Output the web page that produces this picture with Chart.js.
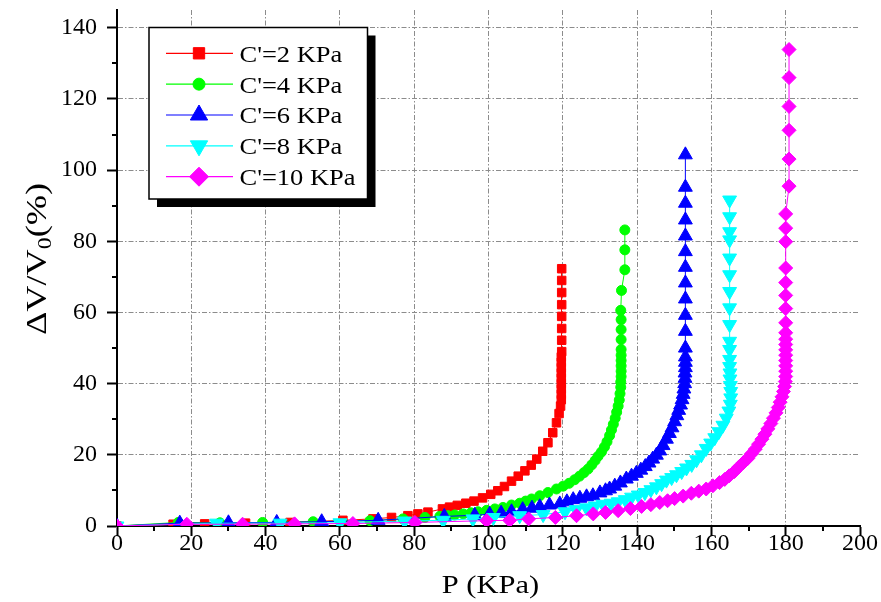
<!DOCTYPE html>
<html>
<head>
<meta charset="utf-8">
<script src="https://cdn.jsdelivr.net/npm/chart.js@4.4.0/dist/chart.umd.min.js"></script>
<style>
html,body{margin:0;padding:0;background:#fff;}
#wrap{width:881px;height:602px;position:relative;}
</style>
</head>
<body>
<div id="wrap"><canvas id="c" width="881" height="602"></canvas></div>
<script>
// ---------------- data ----------------
const seriesNames = ["C'=2 KPa", "C'=4 KPa", "C'=6 KPa", "C'=8 KPa", "C'=10 KPa"];

const pC2 = [0, 15.1, 23.6, 34.6, 46.6, 60.8, 68.9, 73.9, 78.3, 81.0, 83.7, 87.6, 89.5, 91.6, 93.9, 96.1, 98.4, 100.6, 102.5, 104.3, 106.2, 108.0, 109.8, 111.5, 113.0, 114.6, 116.0, 117.3, 118.3, 119.0, 119.4, 119.6, 119.6, 119.6, 119.6, 119.6, 119.6, 119.6, 119.6, 119.6, 119.7, 119.7, 119.7, 119.7, 119.7, 119.7, 119.7, 119.7];
const vC2 = [0, 0.5, 0.6, 0.8, 1.0, 1.6, 2.0, 2.4, 2.9, 3.4, 3.9, 4.8, 5.3, 5.8, 6.4, 7.0, 7.9, 8.9, 9.9, 11.1, 12.6, 14.0, 15.5, 17.1, 18.8, 21.0, 23.4, 26.2, 29.0, 31.6, 33.7, 35.5, 37.0, 38.5, 40.0, 41.5, 43.0, 44.5, 46.0, 47.5, 49.0, 52.2, 55.5, 58.9, 62.2, 65.6, 69.0, 72.3];

const pC4 = [0, 16.5, 27.7, 39.2, 52.8, 68.1, 77.0, 82.9, 86.9, 89.1, 90.9, 93.2, 95.3, 97.2, 99.5, 101.7, 103.9, 106.2, 108.4, 110.0, 111.6, 113.8, 116.0, 118.3, 120.1, 121.7, 123.2, 124.5, 125.7, 126.8, 127.8, 128.7, 129.5, 130.4, 131.2, 131.9, 132.6, 133.1, 133.6, 134.1, 134.5, 134.9, 135.2, 135.4, 135.6, 135.6, 135.7, 135.7, 135.7, 135.7, 135.7, 135.7, 135.7, 135.7, 135.7, 135.6, 135.8, 136.7, 136.7, 136.7];
const vC4 = [0, 1.0, 0.9, 1.0, 1.2, 1.5, 2.0, 2.4, 2.7, 2.9, 3.1, 3.4, 3.7, 4.0, 4.4, 4.8, 5.2, 5.9, 6.4, 7.0, 7.6, 8.5, 9.4, 10.4, 11.2, 12.0, 13.0, 14.0, 15.0, 16.0, 17.2, 18.4, 19.6, 20.8, 22.2, 23.7, 25.4, 27.0, 28.6, 30.3, 32.0, 33.7, 35.4, 37.2, 39.0, 40.5, 42.0, 43.5, 45.0, 46.5, 48.0, 49.6, 52.4, 55.2, 58.0, 60.6, 66.2, 72.0, 77.6, 83.2];

const pC6 = [0, 16.9, 30.0, 43.0, 55.1, 70.3, 88.1, 96.3, 100.3, 103.4, 106.2, 109.2, 111.7, 113.8, 116.4, 119.2, 121.1, 122.8, 124.6, 126.4, 128.1, 130.0, 131.5, 132.6, 134.0, 135.5, 137.1, 138.5, 139.8, 141.0, 142.2, 143.2, 144.2, 145.2, 146.1, 147.0, 147.9, 148.7, 149.4, 150.1, 150.7, 151.2, 151.7, 152.1, 152.4, 152.6, 152.8, 152.9, 152.9, 153.0, 153.0, 153.0, 153.0, 153.0, 153.0, 153.0, 153.0, 153.0, 153.0, 153.0, 153.0, 153.0, 153.0, 153.0];
const vC6 = [0, 0.8, 0.9, 1.0, 1.2, 1.6, 2.7, 3.0, 3.3, 3.6, 4.0, 4.6, 5.0, 5.4, 5.9, 6.2, 6.8, 7.4, 7.8, 8.2, 8.5, 9.3, 9.9, 10.4, 11.2, 12.1, 13.2, 14.0, 14.8, 15.7, 16.7, 17.7, 18.8, 19.9, 21.1, 22.6, 24.4, 26.0, 27.6, 29.3, 31.0, 32.5, 34.0, 35.5, 37.0, 38.5, 40.0, 41.5, 43.0, 44.5, 46.0, 47.5, 50.0, 54.7, 59.2, 63.8, 68.3, 72.7, 77.1, 81.5, 86.0, 90.7, 95.2, 104.3];

const pC8 = [0, 26.8, 43.9, 60.0, 77.4, 87.8, 95.8, 101.3, 108.4, 114.7, 120.6, 123.6, 126.4, 128.7, 130.8, 133.0, 134.9, 136.8, 138.5, 140.3, 142.1, 143.7, 145.2, 146.6, 147.9, 149.3, 150.6, 152.0, 153.3, 154.7, 156.0, 157.3, 158.6, 159.8, 160.9, 162.0, 163.1, 164.0, 164.7, 165.1, 165.2, 165.2, 165.1, 165.0, 165.0, 164.9, 164.9, 164.9, 164.9, 164.9, 164.9, 164.9, 164.9, 164.9, 164.9, 164.9, 164.9, 164.9];
const vC8 = [0, 0.8, 0.8, 0.9, 1.4, 1.6, 2.0, 2.4, 2.9, 3.2, 4.0, 4.6, 5.1, 5.6, 6.1, 6.4, 6.8, 7.4, 8.1, 8.7, 9.4, 10.2, 11.0, 11.9, 12.9, 13.6, 14.4, 15.3, 16.3, 17.3, 18.6, 20.0, 21.8, 23.3, 24.8, 26.5, 28.3, 30.3, 32.3, 34.2, 36.0, 37.8, 39.5, 41.3, 43.0, 44.8, 46.8, 49.6, 51.9, 56.6, 61.3, 65.9, 70.6, 75.3, 80.4, 82.7, 86.9, 91.6];

const pC10 = [0, 18.8, 33.8, 47.8, 63.5, 80.2, 99.5, 105.7, 110.8, 118.0, 123.7, 128.2, 131.5, 134.9, 138.2, 141.2, 143.7, 146.1, 148.2, 150.1, 152.4, 154.6, 156.6, 158.6, 160.4, 162.2, 163.6, 164.8, 166.2, 167.4, 168.6, 169.8, 170.8, 171.8, 172.7, 173.6, 174.4, 175.2, 176.0, 176.7, 177.4, 178.0, 178.5, 179.0, 179.4, 179.7, 179.9, 180.0, 180.0, 180.0, 180.0, 180.0, 180.0, 180.0, 180.0, 180.0, 180.0, 180.0, 180.0, 180.0, 180.0, 180.0, 180.0, 180.0, 180.9, 180.9, 180.9, 180.9, 180.9, 180.9];
const vC10 = [0, 0.5, 0.5, 0.6, 0.7, 1.0, 1.5, 1.6, 2.0, 2.4, 2.9, 3.4, 3.8, 4.3, 4.9, 5.5, 6.0, 6.6, 7.1, 7.7, 8.4, 9.2, 9.8, 10.4, 11.3, 12.2, 13.1, 14.1, 15.3, 16.6, 17.8, 19.0, 20.3, 21.6, 23.0, 24.4, 25.8, 27.3, 28.8, 30.3, 31.8, 33.3, 34.8, 36.3, 37.8, 39.2, 40.6, 42.0, 43.5, 45.0, 46.5, 48.0, 49.5, 51.0, 52.5, 54.3, 57.1, 61.1, 64.8, 68.4, 72.5, 79.9, 83.7, 87.7, 95.5, 103.1, 111.2, 117.9, 126.0, 133.9];

const xTickLabels = [0, 20, 40, 60, 80, 100, 120, 140, 160, 180, 200];
const yTickLabels = [0, 20, 40, 60, 80, 100, 120, 140];
const xTitle = "P (KPa)";
const yTitleParts = ["\u0394V/V", "0", "(%)"];

// ---------------- styles ----------------
const FONT = "'Liberation Serif', 'Times New Roman', serif";
const colors = ['#ff0000', '#00ff00', '#0000ff', '#00ffff', '#ff00ff'];
const styles = [
  {pointStyle: 'rect', rotation: 0, r: 6, lr: 8},
  {pointStyle: 'circle', rotation: 0, r: 5, lr: 6},
  {pointStyle: 'triangle', rotation: 0, r: 8, lr: 10},
  {pointStyle: 'triangle', rotation: 180, r: 8, lr: 10},
  {pointStyle: 'rectRot', rotation: 0, r: 7, lr: 9.5}
];
const P = [pC2, pC4, pC6, pC8, pC10];
const V = [vC2, vC4, vC6, vC8, vC10];

const datasets = seriesNames.map((name, i) => ({
  label: name,
  data: P[i].map((p, k) => ({x: p, y: V[i][k]})),
  showLine: true,
  borderColor: colors[i],
  backgroundColor: colors[i],
  borderWidth: 1,
  pointStyle: styles[i].pointStyle,
  rotation: styles[i].rotation,
  pointRadius: styles[i].r,
  pointHoverRadius: styles[i].r,
  pointBorderWidth: 1,
  pointBorderColor: colors[i],
  pointBackgroundColor: colors[i],
  order: 5 - i
}));

const xSet = new Set(xTickLabels);
const ySet = new Set(yTickLabels);

function stretchText(ctx, text, x, y, sx) {
  ctx.save();
  ctx.translate(x, y);
  ctx.scale(sx, 1);
  ctx.fillText(text, 0, 0);
  ctx.restore();
}

const decor = {
  id: 'decor',
  afterDraw(chart) {
    const ctx = chart.ctx, xs = chart.scales.x, ys = chart.scales.y, a = chart.chartArea;
    ctx.save();
    // minor ticks
    ctx.strokeStyle = '#000';
    ctx.lineWidth = 2;
    for (let v = 10; v < 200; v += 20) {
      const px = Math.round(xs.getPixelForValue(v));
      ctx.beginPath(); ctx.moveTo(px, a.bottom); ctx.lineTo(px, a.bottom + 5); ctx.stroke();
    }
    for (let v = 10; v < 145; v += 20) {
      const py = Math.round(ys.getPixelForValue(v));
      ctx.beginPath(); ctx.moveTo(a.left, py); ctx.lineTo(a.left - 5, py); ctx.stroke();
    }
    // x title
    ctx.fillStyle = '#000';
    ctx.textBaseline = 'alphabetic';
    ctx.textAlign = 'left';
    const sxT = 1.22;
    ctx.font = '25px ' + FONT;
    const wx = ctx.measureText(xTitle).width * sxT;
    stretchText(ctx, xTitle, (a.left + a.right) / 2 - wx / 2 + 2, 592.5, sxT);

    // y title (rotated, with subscript)
    ctx.save();
    ctx.translate(46, 259);
    ctx.rotate(-Math.PI / 2);
    const sy = 1.25;
    const mainF = '29px ' + FONT, subF = '19px ' + FONT;
    ctx.font = mainF; const w1 = ctx.measureText(yTitleParts[0]).width * sy;
    ctx.font = subF;  const w2 = ctx.measureText(yTitleParts[1]).width * sy;
    ctx.font = mainF; const w3 = ctx.measureText(yTitleParts[2]).width * sy;
    let tx = -(w1 + w2 + w3) / 2;
    ctx.font = mainF; stretchText(ctx, yTitleParts[0], tx, 0, sy); tx += w1;
    ctx.font = subF;  stretchText(ctx, yTitleParts[1], tx, 5, sy); tx += w2;
    ctx.font = mainF; stretchText(ctx, yTitleParts[2], tx, 0, sy);
    ctx.restore();

    // legend
    const L = {x: 149, y: 27.5, w: 218.5, h: 171.5, sh: 8};
    ctx.fillStyle = '#000';
    ctx.fillRect(L.x + L.sh, L.y + L.sh, L.w, L.h);
    ctx.fillStyle = '#fff';
    ctx.fillRect(L.x, L.y, L.w, L.h);
    ctx.lineWidth = 1.5;
    ctx.strokeStyle = '#000';
    ctx.strokeRect(L.x, L.y, L.w, L.h);
    const row0 = 53.3, dy = 30.85;
    seriesNames.forEach((name, i) => {
      const ry = row0 + i * dy;
      ctx.strokeStyle = colors[i];
      ctx.lineWidth = 1.2;
      ctx.beginPath(); ctx.moveTo(166, ry); ctx.lineTo(233, ry); ctx.stroke();
      ctx.fillStyle = colors[i];
      ctx.strokeStyle = colors[i];
      ctx.lineWidth = 1;
      Chart.helpers.drawPoint(ctx, {pointStyle: styles[i].pointStyle, rotation: styles[i].rotation, radius: styles[i].lr, borderWidth: 1}, 199, ry);
      ctx.fillStyle = '#000';
      ctx.font = '23px ' + FONT;
      ctx.textBaseline = 'alphabetic';
      stretchText(ctx, name, 239.5, ry + 8.4, 1.15);
    });
    ctx.restore();
  }
};

new Chart(document.getElementById('c'), {
  type: 'scatter',
  data: {datasets},
  options: {
    responsive: false,
    animation: false,
    devicePixelRatio: 1,
    layout: {padding: {top: 10, right: 21, bottom: 0, left: 0}},
    plugins: {legend: {display: false}, tooltip: {enabled: false}},
    scales: {
      x: {
        type: 'linear', min: 0, max: 200,
        afterFit(s) { s.height = 76; s.paddingLeft = 0; s.paddingRight = 0; },
        ticks: {
          stepSize: 10, autoSkip: false, maxRotation: 0, padding: -4, color: '#000',
          font: {family: FONT, size: 24, lineHeight: 1},
          callback: v => xSet.has(v) ? String(v) : ''
        },
        grid: {
          color: c => (c.tick && xSet.has(c.tick.value) && c.tick.value > 0 && c.tick.value < 200) ? '#8c8c8c' : 'rgba(0,0,0,0)',
          lineWidth: 1, tickLength: 10, tickWidth: 2,
          tickColor: c => (c.tick && xSet.has(c.tick.value)) ? '#000' : 'rgba(0,0,0,0)'
        },
        border: {display: true, color: '#000', width: 2, dash: [5, 2, 1.5, 2]}
      },
      y: {
        type: 'linear', min: 0, max: 145,
        afterFit(s) { s.width = 117; s.paddingTop = 0; s.paddingBottom = 0; },
        ticks: {
          stepSize: 10, autoSkip: false, includeBounds: false, padding: 10, color: '#000',
          font: {family: FONT, size: 24, lineHeight: 1},
          callback: v => ySet.has(v) ? String(v) : ''
        },
        grid: {
          color: c => (c.tick && ySet.has(c.tick.value) && c.tick.value > 0) ? '#8c8c8c' : 'rgba(0,0,0,0)',
          lineWidth: 1, tickLength: 10, tickWidth: 2,
          tickColor: c => (c.tick && ySet.has(c.tick.value)) ? '#000' : 'rgba(0,0,0,0)'
        },
        border: {display: true, color: '#000', width: 2, dash: [5, 2, 1.5, 2]}
      }
    }
  },
  plugins: [decor]
});
</script>
</body>
</html>
